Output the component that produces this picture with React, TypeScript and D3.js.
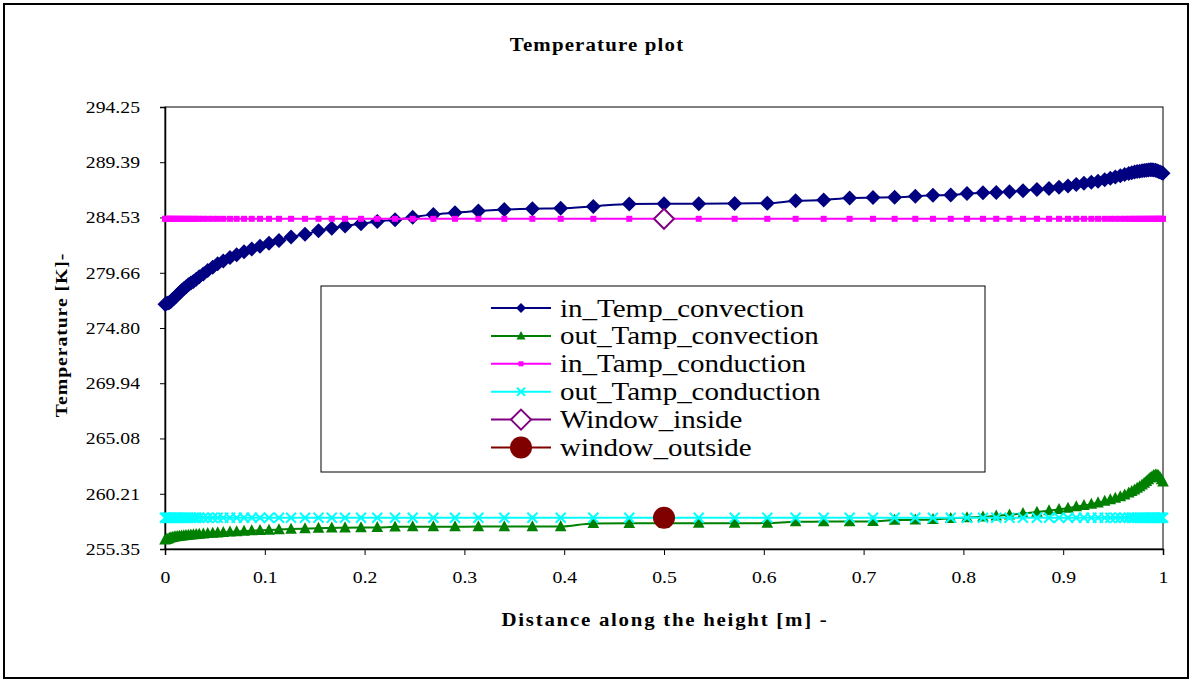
import React, { useEffect, useRef } from "react";
import * as d3 from "d3";

// distance along the height [m] (shared by all line series)
const distance = [
  0, 0.0015, 0.003, 0.0045, 0.006, 0.0076, 0.0093, 0.011, 0.0128, 0.0147,
  0.0167, 0.0188, 0.021, 0.0234, 0.0259, 0.0285, 0.0313, 0.0343, 0.0384, 0.0428,
  0.0478, 0.0528, 0.0584, 0.0651, 0.0718, 0.0792, 0.0869, 0.0952, 0.1042, 0.1142,
  0.1263, 0.1403, 0.1538, 0.1671, 0.1804, 0.1964, 0.2127, 0.2305, 0.2482, 0.2689,
  0.2906, 0.314, 0.34, 0.3681, 0.3965, 0.4292, 0.4652, 0.5, 0.5348, 0.5708,
  0.6035, 0.6319, 0.66, 0.686, 0.7094, 0.7311, 0.7518, 0.7695, 0.7873, 0.8036,
  0.8196, 0.8329, 0.8462, 0.8597, 0.8737, 0.8858, 0.8958, 0.9048, 0.9131, 0.9208,
  0.9282, 0.9349, 0.9416, 0.9472, 0.9522, 0.9572, 0.9616, 0.9657, 0.9687, 0.9715,
  0.9741, 0.9766, 0.979, 0.9812, 0.9833, 0.9853, 0.9872, 0.989, 0.9907, 0.9924,
  0.994, 0.9955, 0.997, 0.9985, 1,
];

const inTempConvection = [
  276.9, 276.95, 277.0, 277.05, 277.15, 277.3, 277.45, 277.6, 277.75, 277.9,
  278.1, 278.25, 278.4, 278.6, 278.75, 278.9, 279.1, 279.3, 279.55, 279.85,
  280.15, 280.45, 280.7, 281.0, 281.25, 281.5, 281.75, 282.0, 282.25, 282.5,
  282.8, 283.05, 283.35, 283.58, 283.78, 283.97, 284.17, 284.33, 284.55, 284.8,
  284.95, 285.1, 285.22, 285.3, 285.33, 285.5, 285.72, 285.73, 285.74, 285.76,
  285.78, 285.99, 286.07, 286.25, 286.28, 286.3, 286.4, 286.48, 286.5, 286.63,
  286.7, 286.73, 286.8, 286.88, 287.0, 287.08, 287.18, 287.3, 287.42, 287.53,
  287.62, 287.72, 287.85, 287.98, 288.08, 288.2, 288.3, 288.4, 288.46, 288.52,
  288.57, 288.6, 288.63, 288.66, 288.69, 288.71, 288.72, 288.72, 288.71, 288.68,
  288.64, 288.58, 288.52, 288.47, 288.42,
];

const outTampConvection = [
  256.15, 256.2, 256.25, 256.3, 256.35, 256.38, 256.41, 256.44, 256.46, 256.48,
  256.5, 256.52, 256.55, 256.58, 256.6, 256.62, 256.64, 256.66, 256.69, 256.72,
  256.75, 256.78, 256.81, 256.85, 256.88, 256.92, 256.96, 256.99, 257.02, 257.06,
  257.1, 257.14, 257.18, 257.2, 257.22, 257.24, 257.25, 257.3, 257.31, 257.31,
  257.31, 257.32, 257.32, 257.32, 257.33, 257.6, 257.61, 257.61, 257.62, 257.62,
  257.63, 257.75, 257.76, 257.77, 257.78, 257.9, 257.92, 257.95, 258.05, 258.12,
  258.18, 258.27, 258.36, 258.48, 258.6, 258.72, 258.84, 258.95, 259.07, 259.18,
  259.3, 259.42, 259.56, 259.7, 259.83, 259.97, 260.12, 260.28, 260.42, 260.56,
  260.7, 260.85, 261.0, 261.15, 261.3, 261.45, 261.6, 261.72, 261.82, 261.88,
  261.88, 261.8, 261.65, 261.45, 261.25,
];

const inTampConduction = [
  284.41, 284.41, 284.41, 284.41, 284.41, 284.41, 284.41, 284.41, 284.41, 284.41,
  284.41, 284.41, 284.41, 284.41, 284.41, 284.41, 284.41, 284.41, 284.41, 284.41,
  284.41, 284.41, 284.41, 284.41, 284.41, 284.41, 284.41, 284.41, 284.41, 284.41,
  284.41, 284.41, 284.41, 284.41, 284.41, 284.41, 284.41, 284.41, 284.41, 284.41,
  284.41, 284.41, 284.41, 284.41, 284.41, 284.41, 284.41, 284.41, 284.41, 284.41,
  284.41, 284.41, 284.41, 284.41, 284.41, 284.41, 284.41, 284.41, 284.41, 284.41,
  284.41, 284.41, 284.41, 284.41, 284.41, 284.41, 284.41, 284.41, 284.41, 284.41,
  284.41, 284.41, 284.41, 284.41, 284.41, 284.41, 284.41, 284.41, 284.41, 284.41,
  284.41, 284.41, 284.41, 284.41, 284.41, 284.41, 284.41, 284.41, 284.41, 284.41,
  284.41, 284.41, 284.41, 284.41, 284.41,
];

const outTampConduction = [
  258.1, 258.1, 258.1, 258.1, 258.1, 258.1, 258.1, 258.1, 258.1, 258.1,
  258.1, 258.1, 258.1, 258.1, 258.1, 258.1, 258.1, 258.1, 258.1, 258.1,
  258.1, 258.1, 258.1, 258.1, 258.1, 258.1, 258.1, 258.1, 258.1, 258.1,
  258.1, 258.1, 258.1, 258.1, 258.1, 258.1, 258.1, 258.1, 258.1, 258.1,
  258.1, 258.1, 258.1, 258.1, 258.1, 258.1, 258.1, 258.1, 258.1, 258.1,
  258.1, 258.1, 258.1, 258.1, 258.1, 258.1, 258.1, 258.1, 258.1, 258.1,
  258.1, 258.1, 258.1, 258.1, 258.1, 258.1, 258.1, 258.1, 258.1, 258.1,
  258.1, 258.1, 258.1, 258.1, 258.1, 258.1, 258.1, 258.1, 258.1, 258.1,
  258.1, 258.1, 258.1, 258.1, 258.1, 258.1, 258.1, 258.1, 258.1, 258.1,
  258.1, 258.1, 258.1, 258.1, 258.1,
];

// single points
const windowInsideX = [0.5];
const windowInsideY = [284.41];
const windowOutsideX = [0.5];
const windowOutsideY = [258.1];

const seriesNames = [
  "in_Temp_convection",
  "out_Tamp_convection",
  "in_Tamp_conduction",
  "out_Tamp_conduction",
  "Window_inside",
  "window_outside",
];

const yTicks = [255.35, 260.21, 265.08, 269.94, 274.8, 279.66, 284.53, 289.39, 294.25];
const xTicks = [0, 0.1, 0.2, 0.3, 0.4, 0.5, 0.6, 0.7, 0.8, 0.9, 1];

const W = 1193;
const H = 683;
const SERIF = "'Liberation Serif', 'Times New Roman', serif";
const SX = 1.16; // the original text is stretched sideways

const App = () => {
  const chartRef = useRef<SVGSVGElement>(null);

  useEffect(() => {
    document.body.style.margin = "0";
    const margin = { top: 107, right: 30, bottom: 134, left: 165 };
    const width = W - margin.left - margin.right;
    const height = H - margin.top - margin.bottom;

    const root = d3.select(chartRef.current);
    root.selectAll("*").remove();

    root.append("rect").attr("width", W).attr("height", H).attr("fill", "#fff");
    root
      .append("rect")
      .attr("x", 4)
      .attr("y", 4)
      .attr("width", W - 9)
      .attr("height", H - 9)
      .attr("fill", "none")
      .attr("stroke", "#000")
      .attr("stroke-width", 2);

    // title
    root
      .append("text")
      .attr("transform", `translate(597, 51) scale(${SX},1)`)
      .attr("text-anchor", "middle")
      .attr("font-family", SERIF)
      .attr("font-weight", "bold")
      .attr("font-size", 18)
      .attr("letter-spacing", 1)
      .text("Temperature plot");

    const svg = root.append("g").attr("transform", `translate(${margin.left}, ${margin.top})`);

    const xScale = d3.scaleLinear().domain([0, 1]).range([0, width]);
    const yScale = d3.scaleLinear().domain([255.35, 294.25]).range([height, 0]);

    // plot area frame
    svg
      .append("rect")
      .attr("width", width)
      .attr("height", height)
      .attr("fill", "none")
      .attr("stroke", "#000")
      .attr("stroke-width", 1);

    const yAxis = d3.axisLeft(yScale).tickValues(yTicks).tickSize(5).tickFormat(d3.format(".2f"));
    const gy = svg.append("g").call(yAxis);
    gy.select(".domain").attr("stroke", "#000").attr("stroke-width", 1.5);
    gy.selectAll(".tick line").attr("stroke", "#000");
    gy.selectAll(".tick text")
      .attr("x", -25 / SX)
      .attr("transform", `scale(${SX},1)`)
      .attr("font-family", SERIF)
      .attr("font-size", 17)
      .attr("fill", "#000");

    const xAxis = d3.axisBottom(xScale).tickValues(xTicks).tickSize(6).tickFormat(d3.format("~g"));
    const gx = svg.append("g").attr("transform", `translate(0, ${height})`).call(xAxis);
    gx.select(".domain").attr("stroke", "#000").attr("stroke-width", 1.5);
    gx.selectAll(".tick line").attr("stroke", "#000");
    gx.selectAll(".tick text")
      .attr("y", 22)
      .attr("transform", `scale(${SX},1)`)
      .attr("font-family", SERIF)
      .attr("font-size", 17)
      .attr("fill", "#000");

    // axis titles
    root
      .append("text")
      .attr("transform", `translate(665, 626) scale(${SX},1)`)
      .attr("text-anchor", "middle")
      .attr("font-family", SERIF)
      .attr("font-weight", "bold")
      .attr("font-size", 18)
      .attr("letter-spacing", 1.5)
      .text("Distance along the height [m] -");

    root
      .append("text")
      .attr("transform", `translate(67, 335) rotate(-90) scale(${SX},1)`)
      .attr("text-anchor", "middle")
      .attr("font-family", SERIF)
      .attr("font-weight", "bold")
      .attr("font-size", 17)
      .attr("letter-spacing", 0.8)
      .text("Temperature [K]-");

    const rows = distance.map((d, i) => ({
      x: d,
      a: inTempConvection[i],
      b: outTampConvection[i],
      c: inTampConduction[i],
      e: outTampConduction[i],
    }));

    const diamond = (r: number) => `M0,${-r}L${r},0L0,${r}L${-r},0Z`;
    const triangle = (s: number) => `M0,${-s * 1.1}L${s},${s * 0.8}L${-s},${s * 0.8}Z`;
    const cross = (s: number) => `M${-s},${-s}L${s},${s}M${-s},${s}L${s},${-s}`;

    const series = [
      { key: "a", color: "#000080", marker: "diamond" },
      { key: "b", color: "#008000", marker: "triangle" },
      { key: "c", color: "#FF00FF", marker: "square" },
      { key: "e", color: "#00FFFF", marker: "cross" },
    ];

    const drawMarker = (g: any, marker: string, color: string, small = false) => {
      if (marker === "diamond") g.append("path").attr("d", diamond(small ? 5 : 7.5)).attr("fill", color);
      if (marker === "triangle") g.append("path").attr("d", triangle(small ? 4.5 : 5.8)).attr("fill", color);
      if (marker === "square") {
        const s = small ? 5 : 6;
        g.append("rect").attr("x", -s / 2).attr("y", -s / 2).attr("width", s).attr("height", s).attr("fill", color);
      }
      if (marker === "cross")
        g.append("path").attr("d", cross(small ? 4 : 5)).attr("stroke", color).attr("stroke-width", 2).attr("fill", "none");
      if (marker === "hollowDiamond")
        g.append("path").attr("d", diamond(10)).attr("fill", "#fff").attr("stroke", color).attr("stroke-width", 2);
      if (marker === "circle") g.append("circle").attr("r", 11).attr("fill", color);
    };

    series.forEach((s) => {
      const line = d3
        .line<any>()
        .x((d) => xScale(d.x))
        .y((d) => yScale(d[s.key]))
        .curve(d3.curveMonotoneX);
      svg
        .append("path")
        .datum(rows)
        .attr("d", line)
        .attr("fill", "none")
        .attr("stroke", s.color)
        .attr("stroke-width", 2);
      svg
        .selectAll(`.m-${s.key}`)
        .data(rows)
        .enter()
        .append("g")
        .attr("class", `m-${s.key}`)
        .attr("transform", (d: any) => `translate(${xScale(d.x)}, ${yScale(d[s.key])})`)
        .each(function () {
          drawMarker(d3.select(this), s.marker, s.color);
        });
    });

    windowInsideX.forEach((wx, i) => {
      const g = svg.append("g").attr("transform", `translate(${xScale(wx)}, ${yScale(windowInsideY[i])})`);
      drawMarker(g, "hollowDiamond", "#800080");
    });
    windowOutsideX.forEach((wx, i) => {
      const g = svg.append("g").attr("transform", `translate(${xScale(wx)}, ${yScale(windowOutsideY[i])})`);
      drawMarker(g, "circle", "#800000");
    });

    // legend
    const legend = root.append("g");
    legend
      .append("rect")
      .attr("x", 321)
      .attr("y", 286)
      .attr("width", 664)
      .attr("height", 186)
      .attr("fill", "#fff")
      .attr("stroke", "#000")
      .attr("stroke-width", 1);

    const legendColors = ["#000080", "#008000", "#FF00FF", "#00FFFF", "#800080", "#800000"];
    const legendMarkers = ["diamond", "triangle", "square", "cross", "hollowDiamond", "circle"];
    seriesNames.forEach((name, i) => {
      const cy = 308 + i * 27.9;
      legend
        .append("line")
        .attr("x1", 491)
        .attr("x2", 551)
        .attr("y1", cy)
        .attr("y2", cy)
        .attr("stroke", legendColors[i])
        .attr("stroke-width", 2);
      const g = legend.append("g").attr("transform", `translate(521, ${cy})`);
      drawMarker(g, legendMarkers[i], legendColors[i], true);
      legend
        .append("text")
        .attr("transform", `translate(560, ${cy + 8.5}) scale(${SX},1)`)
        .attr("font-family", SERIF)
        .attr("font-size", 25)
        .attr("fill", "#000")
        .text(name);
    });
  }, []);

  return <svg ref={chartRef} width={W} height={H} style={{ display: "block" }} />;
};

export default App;
